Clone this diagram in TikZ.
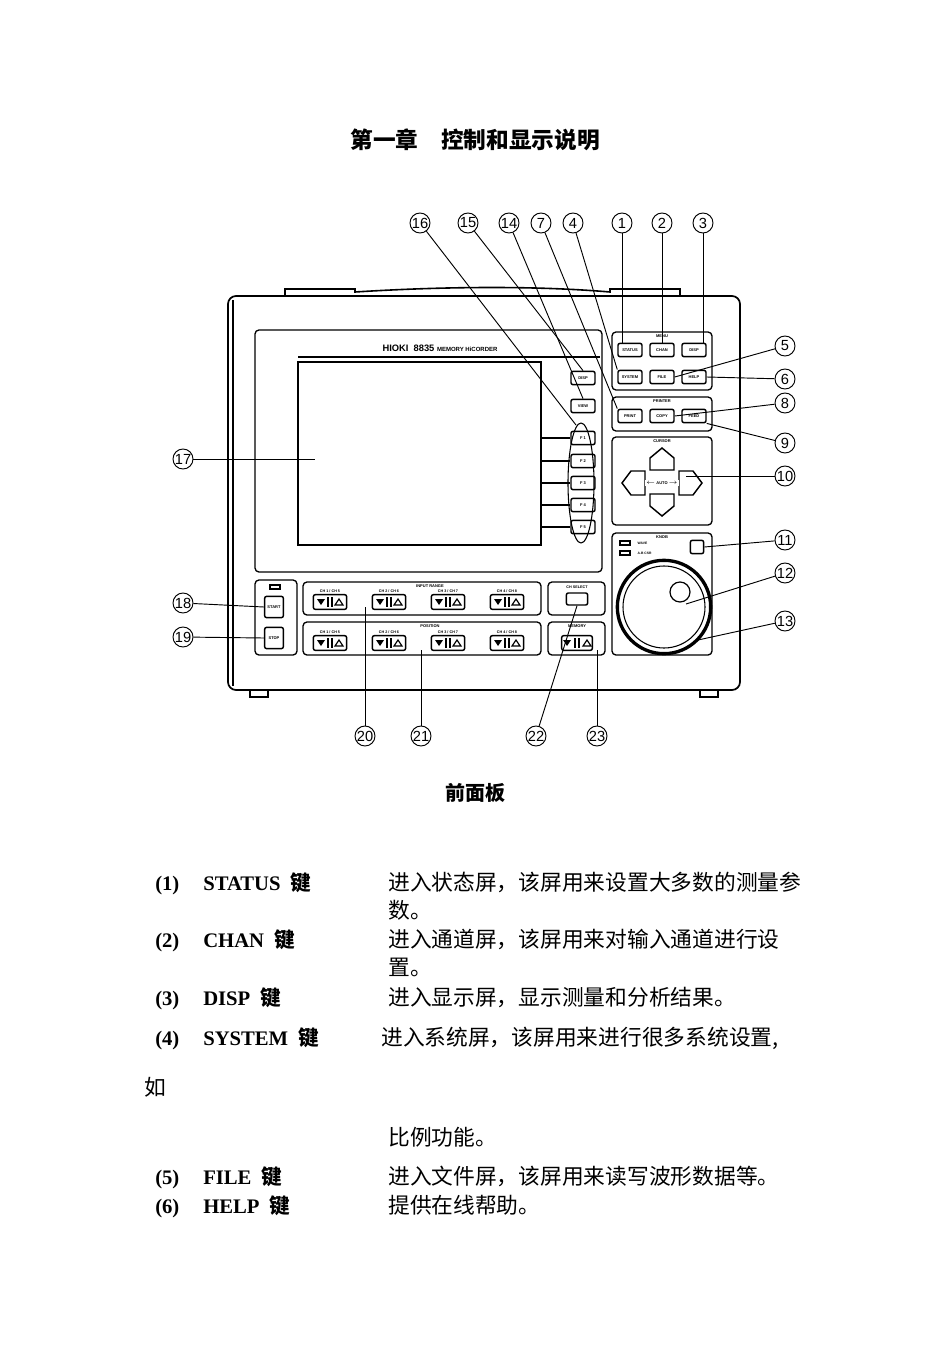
\documentclass[tikz,border=0pt]{standalone}
\usepackage{fontspec}
\setmainfont{Liberation Serif}
\newfontfamily\cjk{Noto Sans CJK SC}
\newfontfamily\hv{Liberation Sans}
\begin{document}
\begin{tikzpicture}[x=0.75pt,y=-0.75pt,
 panel/.style={draw,line width=1pt,rounded corners=3pt},
 btn/.style={draw,line width=1.1pt,rounded corners=1.5pt,minimum width=18pt,minimum height=10pt,inner sep=0pt,font=\hv\bfseries\fontsize{3}{3}\selectfont},
 pbtn/.style={draw,line width=1.1pt,rounded corners=1.5pt,minimum width=25pt,minimum height=11pt,inner sep=0pt},
 lab/.style={font=\hv\bfseries\fontsize{3}{3}\selectfont,fill=white,inner sep=1pt},
 call/.style={draw,circle,line width=0.7pt,minimum size=15pt,inner sep=0pt,font=\hv\fontsize{11}{11}\selectfont},
 ln/.style={line width=0.7pt},
 txt/.style={font=\fontsize{15.5}{15}\selectfont\bfseries,anchor=base west,inner sep=0pt},
 ctxt/.style={font=\cjk\fontsize{16.3}{16}\selectfont,anchor=base west,inner sep=0pt}]
\useasboundingbox (0,0) rectangle (950,1345);
\node[font=\cjk\bfseries\fontsize{17}{17}\selectfont] (title) at (475,140) {第一章\quad 控制和显示说明};
% device body
\draw[line width=1.2pt] (285,296) -- (285,289) -- (355,289) -- (355,292) .. controls (450,286) and (540,286) .. (610,292) -- (610,289) -- (680,289) -- (680,296);
\draw[line width=1.3pt,rounded corners=6pt] (228,296) rectangle (740,690);
\draw[line width=1pt] (233,300) -- (233,686);
\draw[line width=1pt] (250,690) rectangle (268,697);
\draw[line width=1pt] (700,690) rectangle (718,697);
% display frame
\draw[panel] (255,330) rectangle (602,572);
\draw[line width=2pt] (298,362) rectangle (541,545);
\draw[line width=1pt] (298,357) -- (600,357);
\node[font=\hv\bfseries\fontsize{7}{7}\selectfont] (brand) at (440,348) {HIOKI\ \ 8835 {\fontsize{4.5}{5}\selectfont MEMORY HiCORDER}};
\node[btn] (dt) at (583,378) {DISP};
\node[btn] (view) at (583,406) {VIEW};
\foreach \i/\y in {1/438,2/461,3/483,4/505,5/527}{
  \node[btn] (f\i) at (583,\y) {F \i};
  \draw[line width=1.6pt] (541,\y) -- (f\i.west);
}
\draw[line width=0.8pt] (581,483) ellipse (13 and 60);
\coordinate (ftop) at (576,425);
% MENU
\draw[panel] (612,332) rectangle (712,390);
\node[lab] at (662,336) {MENU};
\node[btn] (status) at (630,350) {STATUS};
\node[btn] (chan) at (662,350) {CHAN};
\node[btn] (disp) at (694,350) {DISP};
\node[btn] (system) at (630,377) {SYSTEM};
\node[btn] (file) at (662,377) {FILE};
\node[btn] (help) at (694,377) {HELP};
% PRINTER
\draw[panel] (612,397) rectangle (712,431);
\node[lab] at (662,401) {PRINTER};
\node[btn] (print) at (630,416) {PRINT};
\node[btn] (copy) at (662,416) {COPY};
\node[btn] (feed) at (694,416) {FEED};
% CURSOR
\draw[panel] (612,437) rectangle (712,525);
\node[lab] at (662,441) {CURSOR};
\draw[line width=1.1pt] (650,470) -- (650,458) -- (662,448) -- (674,458) -- (674,470) -- cycle;
\draw[line width=1.1pt] (650,494) -- (674,494) -- (674,506) -- (662,516) -- (650,506) -- cycle;
\draw[line width=1.1pt] (645,471) -- (645,495) -- (631,495) -- (622,483) -- (631,471) -- cycle;
\draw[line width=1.1pt] (679,471) -- (693,471) -- (702,483) -- (693,495) -- (679,495) -- cycle;
\coordinate (right) at (686,476);
\node[lab] at (662,483) {$\leftarrow$ AUTO $\rightarrow$};
% KNOB
\draw[panel] (612,533) rectangle (712,655);
\node[lab] at (662,537) {KNOB};
\draw[line width=0.8pt] (620,541) rectangle (630,545);
\draw[line width=0.8pt] (620,551) rectangle (630,555);
\node[font=\hv\bfseries\fontsize{2.5}{3}\selectfont,anchor=west] at (633,543) {WAVE};
\node[font=\hv\bfseries\fontsize{2.5}{3}\selectfont,anchor=west] at (633,553) {A.B CSR};
\node[draw,line width=1.1pt,rounded corners=1.5pt,minimum size=10pt] (kbtn) at (697,547) {};
\node[draw,circle,line width=2.5pt,minimum size=70pt,inner sep=0pt] (knob) at (664,607) {};
\draw[line width=0.8pt] (664,607) circle (41);
\draw[line width=0.9pt] (680,592) circle (10);
\coordinate (kmid) at (686,604);
\coordinate (kedge) at (698,640);
% START STOP
\draw[panel] (255,580) rectangle (297,655);
\draw[line width=0.9pt] (270,585) rectangle (280,589);
\node[btn,minimum width=14pt,minimum height=16pt] (start) at (274,607) {START};
\node[btn,minimum width=14pt,minimum height=16pt] (stop) at (274,638) {STOP};
% INPUT RANGE / POSITION
\draw[panel] (303,582) rectangle (541,615);
\node[lab] at (430,586) {INPUT RANGE};
\draw[panel] (303,622) rectangle (541,655);
\node[lab] at (430,626) {POSITION};
\foreach \x/\l in {330/{CH 1 / CH 5},389/{CH 2 / CH 6},448/{CH 3 / CH 7},507/{CH 4 / CH 8}}{
  \foreach \y in {602,643}{
    \node[pbtn] (p\x\y) at (\x,\y) {};
    \draw[line width=0.8pt] (\x-2,\y-5) -- (\x-2,\y+5) (\x+2,\y-5) -- (\x+2,\y+5);
    \fill (\x-13,\y-3) -- (\x-5,\y-3) -- (\x-9,\y+3) -- cycle;
    \draw[line width=0.9pt] (\x+13,\y+3) -- (\x+5,\y+3) -- (\x+9,\y-3) -- cycle;
    \node[font=\hv\bfseries\fontsize{2.8}{3}\selectfont] at (\x,\y-11) {\l};
  }
}
\draw[panel] (548,582) rectangle (605,615);
\node[font=\hv\bfseries\fontsize{2.8}{3}\selectfont] at (577,587) {CH SELECT};
\node[draw,line width=1.1pt,rounded corners=1.5pt,minimum width=16pt,minimum height=9pt] (chsel) at (577,599) {};
\draw[panel] (548,622) rectangle (605,655);
\node[lab] at (577,626) {MEMORY};
\node[pbtn,minimum width=23pt] (mem) at (577,643) {};
\draw[line width=0.8pt] (575,638) -- (575,648) (579,638) -- (579,648);
\fill (563,640) -- (571,640) -- (567,646) -- cycle;
\draw[line width=0.9pt] (591,646) -- (583,646) -- (587,640) -- cycle;
\coordinate (ir) at (365,607);
\coordinate (pos) at (421,650);
\coordinate (memc) at (597,650);
\coordinate (scr) at (315,459);
% callouts
\foreach \n/\x in {16/420,15/468,14/509,7/541,4/573,1/622,2/662,3/703}{
  \node[call] (c\n) at (\x,223) {\n};
}
\foreach \n/\y in {5/346,6/379,8/403,9/443,10/476,11/540,12/573,13/621}{
  \node[call] (c\n) at (785,\y) {\n};
}
\node[call] (c17) at (183,459) {17};
\node[call] (c18) at (183,603) {18};
\node[call] (c19) at (183,637) {19};
\foreach \n/\x in {20/365,21/421,22/536,23/597}{
  \node[call] (c\n) at (\x,736) {\n};
}
\draw[ln] (c16) -- (ftop);
\draw[ln] (c15) -- (dt.north);
\draw[ln] (c14) -- (view.north);
\draw[ln] (c7) -- (print.north west);
\draw[ln] (c4) -- (system.north west);
\draw[ln] (c1) -- (status.north -| c1);
\draw[ln] (c2) -- (chan.north);
\draw[ln] (c3) -- (disp.north -| c3);
\draw[ln] (c5) -- (file.east);
\draw[ln] (c6) -- (help.east);
\draw[ln] (c8) -- (copy.east);
\draw[ln] (c9) -- (feed.south east);
\draw[ln] (c10) -- (right);
\draw[ln] (c11) -- (kbtn.east);
\draw[ln] (c12) -- (kmid);
\draw[ln] (c13) -- (kedge);
\draw[ln] (c17) -- (scr);
\draw[ln] (c18) -- (start.west);
\draw[ln] (c19) -- (stop.west);
\draw[ln] (c20) -- (ir);
\draw[ln] (c21) -- (pos);
\draw[ln] (c22) -- (chsel.south);
\draw[ln] (c23) -- (memc);
\node[font=\cjk\bfseries\fontsize{15}{15}\selectfont] (cap) at (475,793) {前面板};
% list (baselines)
\node[txt] at (155,890) {(1)};\node[txt] at (203,890) {STATUS\ \ {\cjk 键}};\node[ctxt] at (388,890) {进入状态屏，该屏用来设置大多数的测量参};
\node[ctxt] at (388,918) {数。};
\node[txt] at (155,947) {(2)};\node[txt] at (203,947) {CHAN\ \ {\cjk 键}};\node[ctxt] at (388,947) {进入通道屏，该屏用来对输入通道进行设};
\node[ctxt] at (388,975) {置。};
\node[txt] at (155,1005) {(3)};\node[txt] at (203,1005) {DISP\ \ {\cjk 键}};\node[ctxt] at (388,1005) {进入显示屏，显示测量和分析结果。};
\node[txt] at (155,1045) {(4)};\node[txt] at (203,1045) {SYSTEM\ \ {\cjk 键}};\node[ctxt] at (381,1045) {进入系统屏，该屏用来进行很多系统设置,};
\node[ctxt] at (144,1095) {如};
\node[ctxt] at (388,1145) {比例功能。};
\node[txt] at (155,1184) {(5)};\node[txt] at (203,1184) {FILE\ \ {\cjk 键}};\node[ctxt] at (388,1184) {进入文件屏，该屏用来读写波形数据等。};
\node[txt] at (155,1213) {(6)};\node[txt] at (203,1213) {HELP\ \ {\cjk 键}};\node[ctxt] at (388,1213) {提供在线帮助。};
\end{tikzpicture}
\end{document}
